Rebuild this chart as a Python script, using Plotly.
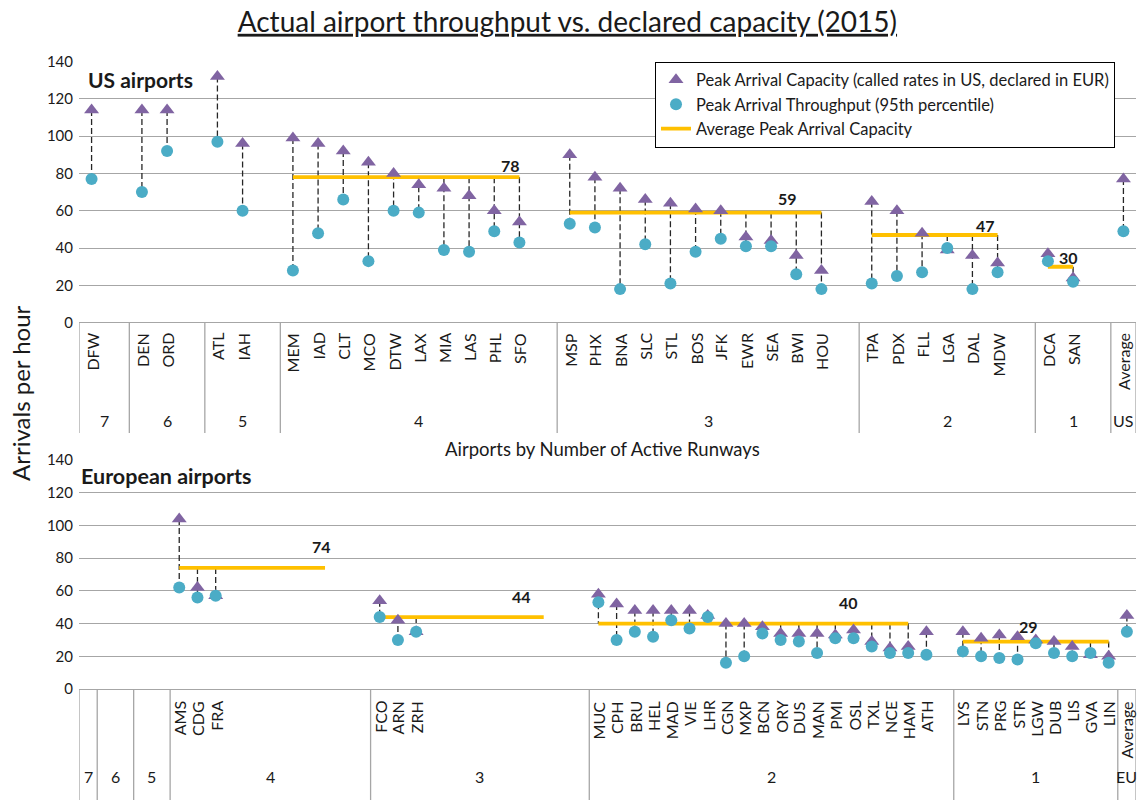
import plotly.graph_objects as go

W, H = 1145, 800
FONT = "Lato, Carlito, Calibri, sans-serif"
PURPLE = "#8064A2"
AQUA = "#4BACC6"
GOLD = "#FFC000"
GRID = "#A6A6A6"
INK = "#1a1a1a"

# ---------------- US airports ----------------
us_airports = ["DFW", "DEN", "ORD", "ATL", "IAH",
               "MEM", "IAD", "CLT", "MCO", "DTW", "LAX", "MIA", "LAS", "PHL", "SFO",
               "MSP", "PHX", "BNA", "SLC", "STL", "BOS", "JFK", "EWR", "SEA", "BWI", "HOU",
               "TPA", "PDX", "FLL", "LGA", "DAL", "MDW",
               "DCA", "SAN"]
us_runways = [7, 6, 6, 5, 5,
              4, 4, 4, 4, 4, 4, 4, 4, 4, 4,
              3, 3, 3, 3, 3, 3, 3, 3, 3, 3, 3,
              2, 2, 2, 2, 2, 2,
              1, 1]
us_capacity = [114, 114, 114, 132, 96,
               99, 96, 92, 86, 80, 74, 72, 68, 60, 54,
               90, 78, 72, 66, 64, 61, 60, 46, 44, 36, 28,
               65, 60, 48, 39, 36, 32,
               37, 24]
us_throughput = [77, 70, 92, 97, 60,
                 28, 48, 66, 33, 60, 59, 39, 38, 49, 43,
                 53, 51, 18, 42, 21, 38, 45, 41, 41, 26, 18,
                 21, 25, 27, 40, 18, 27,
                 33, 22]
us_average = [77, 49]          # capacity, throughput
us_groups = ["7", "6", "5", "4", "3", "2", "1", "US"]
us_group_slots = [2, 3, 3, 11, 12, 7, 3, 1]
us_avg_groups = ["4", "3", "2", "1"]
us_avg_values = [78, 59, 47, 30]
us_avg_span = [10, 11, 6, 2]

# ---------------- European airports ----------------
eu_airports = ["AMS", "CDG", "FRA",
               "FCO", "ARN", "ZRH",
               "MUC", "CPH", "BRU", "HEL", "MAD", "VIE", "LHR", "CGN", "MXP", "BCN",
               "ORY", "DUS", "MAN", "PMI", "OSL", "TXL", "NCE", "HAM", "ATH",
               "LYS", "STN", "PRG", "STR", "LGW", "DUB", "LIS", "GVA", "LIN"]
eu_runways = [4, 4, 4,
              3, 3, 3,
              2, 2, 2, 2, 2, 2, 2, 2, 2, 2, 2, 2, 2, 2, 2, 2, 2, 2, 2,
              1, 1, 1, 1, 1, 1, 1, 1, 1]
eu_capacity = [104, 62, 57,
               54, 42, 35,
               58, 52, 48, 48, 48, 48, 45, 40, 40, 38, 34, 34, 34, 33, 36, 29, 25, 26, 35,
               35, 31, 33, 32, 30, 29, 26, 21, 20]
eu_throughput = [62, 56, 57,
                 44, 30, 35,
                 53, 30, 35, 32, 42, 37, 44, 16, 20, 34, 30, 29, 22, 31, 31, 26, 22, 22, 21,
                 23, 20, 19, 18, 28, 22, 20, 22, 16]
eu_average = [45, 35]
eu_groups = ["7", "6", "5", "4", "3", "2", "1", "EU"]
eu_group_slots = [1, 2, 2, 11, 12, 20, 9, 1]
eu_avg_groups = ["4", "3", "2", "1"]
eu_avg_values = [74, 44, 40, 29]
eu_avg_span = [9, 10, 18, 9]

# label placement for the average values (slot position, pixel lift)
us_avg_label_x = [16.65, 27.65, 35.5, 38.8]
us_avg_label_lift = [12, 14, 10, 9]
eu_avg_label_x = [12.8, 23.8, 41.7, 51.6]
eu_avg_label_lift = [21, 21, 21, 15]


def py(px):
    return 1 - px / H


def slot_start(groups, group_slots):
    start, s = {}, 0
    for g, n in zip(groups, group_slots):
        start[g] = s
        s += n
    return start, s


def add_panel(fig, n, airports, runways, capacity, throughput, average, groups, group_slots,
              avg_groups, avg_values, avg_span, lab_x, lab_lift, table_top, table_bottom,
              name_top, group_y, legend):
    xa = "x" if n == 1 else "x%d" % n
    ya = "y" if n == 1 else "y%d" % n
    start, total = slot_start(groups, group_slots)

    xs, seen = [], {}
    for r in runways:
        g = str(r)
        xs.append(start[g] + seen.get(g, 0))
        seen[g] = seen.get(g, 0) + 1
    xs.append(start[groups[-1]])
    cap = capacity + [average[0]]
    thr = throughput + [average[1]]
    names = airports + ["Average"]

    # average capacity lines
    ax, ay, avg_at = [], [], {}
    for g, v, k in zip(avg_groups, avg_values, avg_span):
        for i in range(k):
            ax.append(start[g] + i)
            ay.append(v)
            avg_at[start[g] + i] = v
        ax.append(None)
        ay.append(None)

    # high-low connectors
    vals = {}
    for x, c, t in zip(xs, cap, thr):
        vals.setdefault(x, []).extend([c, t])
    for x, v in avg_at.items():
        vals.setdefault(x, []).append(v)
    cx, cy = [], []
    for x, v in vals.items():
        if max(v) > min(v):
            cx += [x, x, None]
            cy += [max(v), min(v), None]

    fig.add_trace(go.Scatter(x=cx, y=cy, mode="lines", xaxis=xa, yaxis=ya, showlegend=False,
                             line=dict(color="#262626", width=1.3, dash="6px,3px"),
                             hoverinfo="skip"))
    fig.add_trace(go.Scatter(x=ax, y=ay, mode="lines", xaxis=xa, yaxis=ya,
                             name="Average Peak Arrival Capacity", legendrank=3,
                             showlegend=legend, line=dict(color=GOLD, width=3.8)))
    fig.add_trace(go.Scatter(x=xs, y=cap, mode="markers", xaxis=xa, yaxis=ya,
                             name="Peak Arrival Capacity (called rates in US, declared in EUR)",
                             legendrank=1, showlegend=legend, text=names,
                             marker=dict(symbol="triangle-up", size=13, color=PURPLE)))
    fig.add_trace(go.Scatter(x=xs, y=thr, mode="markers", xaxis=xa, yaxis=ya,
                             name="Peak Arrival Throughput (95th percentile)",
                             legendrank=2, showlegend=legend, text=names,
                             marker=dict(symbol="circle", size=12, color=AQUA)))

    # average value labels
    for v, lx, lift in zip(avg_values, lab_x, lab_lift):
        fig.add_annotation(x=lx, y=v, xref=xa, yref=ya, text="<b>%d</b>" % v, showarrow=False,
                           yshift=lift, font=dict(size=16, color=INK))

    # category table
    bounds = [-0.5]
    for k in group_slots:
        bounds.append(bounds[-1] + k)
    for b in bounds:
        fig.add_shape(type="line", xref=xa, yref="paper", x0=b, x1=b,
                      y0=py(table_top), y1=py(table_bottom),
                      line=dict(color=GRID, width=1.3))
    for x, nm in zip(xs, names):
        fig.add_annotation(x=x, y=py(name_top), xref=xa, yref="paper", text=nm, textangle=-90,
                           showarrow=False, xanchor="center", yanchor="top",
                           font=dict(size=16, color=INK))
    for g, k in zip(groups, group_slots):
        fig.add_annotation(x=start[g] + (k - 1) / 2, y=py(group_y), xref=xa, yref="paper",
                           text=g, showarrow=False, font=dict(size=16, color=INK))
    return total


fig = go.Figure()
us_total = add_panel(fig, 1, us_airports, us_runways, us_capacity, us_throughput, us_average,
                     us_groups, us_group_slots, us_avg_groups, us_avg_values, us_avg_span,
                     us_avg_label_x, us_avg_label_lift, 322.7, 433, 331, 420, True)
eu_total = add_panel(fig, 2, eu_airports, eu_runways, eu_capacity, eu_throughput, eu_average,
                     eu_groups, eu_group_slots, eu_avg_groups, eu_avg_values, eu_avg_span,
                     eu_avg_label_x, eu_avg_label_lift, 689, 800, 699, 788, False)

xdom = [79 / W, 1136 / W]
yaxis_style = dict(range=[0, 140], dtick=20, showgrid=True, gridcolor=GRID, gridwidth=1.3,
                   zeroline=True, zerolinecolor=GRID, zerolinewidth=1.3, showline=False,
                   ticks="", tickfont=dict(size=15, color=INK), automargin=False,
                   ticklabelstandoff=5, fixedrange=True)
xaxis_style = dict(showgrid=False, zeroline=False, showline=False, showticklabels=False,
                   ticks="", automargin=False, fixedrange=True)

fig.update_layout(
    width=W, height=H,
    template="none",
    paper_bgcolor="white", plot_bgcolor="white",
    margin=dict(l=0, r=0, t=0, b=0),
    font=dict(family=FONT, color=INK),
    title=dict(text="Actual airport throughput vs. declared capacity (2015)",
               x=0.4955, xanchor="center", y=py(22), yanchor="middle",
               font=dict(size=28, color=INK, lineposition="under")),
    xaxis=dict(xaxis_style, domain=xdom, range=[-0.5, us_total - 0.5], anchor="y"),
    yaxis=dict(yaxis_style, domain=[py(322.7), py(61.5)], anchor="x"),
    xaxis2=dict(xaxis_style, domain=xdom, range=[-0.5, eu_total - 0.5], anchor="y2"),
    yaxis2=dict(yaxis_style, domain=[py(689), py(460)], anchor="x2"),
    showlegend=True,
    legend=dict(x=655 / W, y=py(61.5), xanchor="left", yanchor="top",
                bgcolor="white", bordercolor="black", borderwidth=1,
                font=dict(size=16.5, color=INK), itemwidth=30),
    hovermode="closest",
)

fig.add_annotation(x=20 / W, y=py(393), xref="paper", yref="paper", text="Arrivals per hour",
                   textangle=-90, showarrow=False, xanchor="center", yanchor="middle",
                   font=dict(size=24, color=INK))
fig.add_annotation(x=86 / W, y=py(79), xref="paper", yref="paper", text="<b>US airports</b>",
                   xanchor="left", yanchor="middle", showarrow=False,
                   font=dict(size=21, color=INK))
fig.add_annotation(x=79 / W, y=py(476), xref="paper", yref="paper",
                   text="<b>European airports</b>", xanchor="left", yanchor="middle",
                   showarrow=False, font=dict(size=21.5, color=INK))
fig.add_annotation(x=602 / W, y=py(449), xref="paper", yref="paper",
                   text="Airports by Number of Active Runways", showarrow=False,
                   xanchor="center", yanchor="middle", font=dict(size=18.5, color=INK))

fig.write_html("out.html", config={"displayModeBar": False},
               post_script="document.body.style.margin='0';document.body.style.padding='0';")
